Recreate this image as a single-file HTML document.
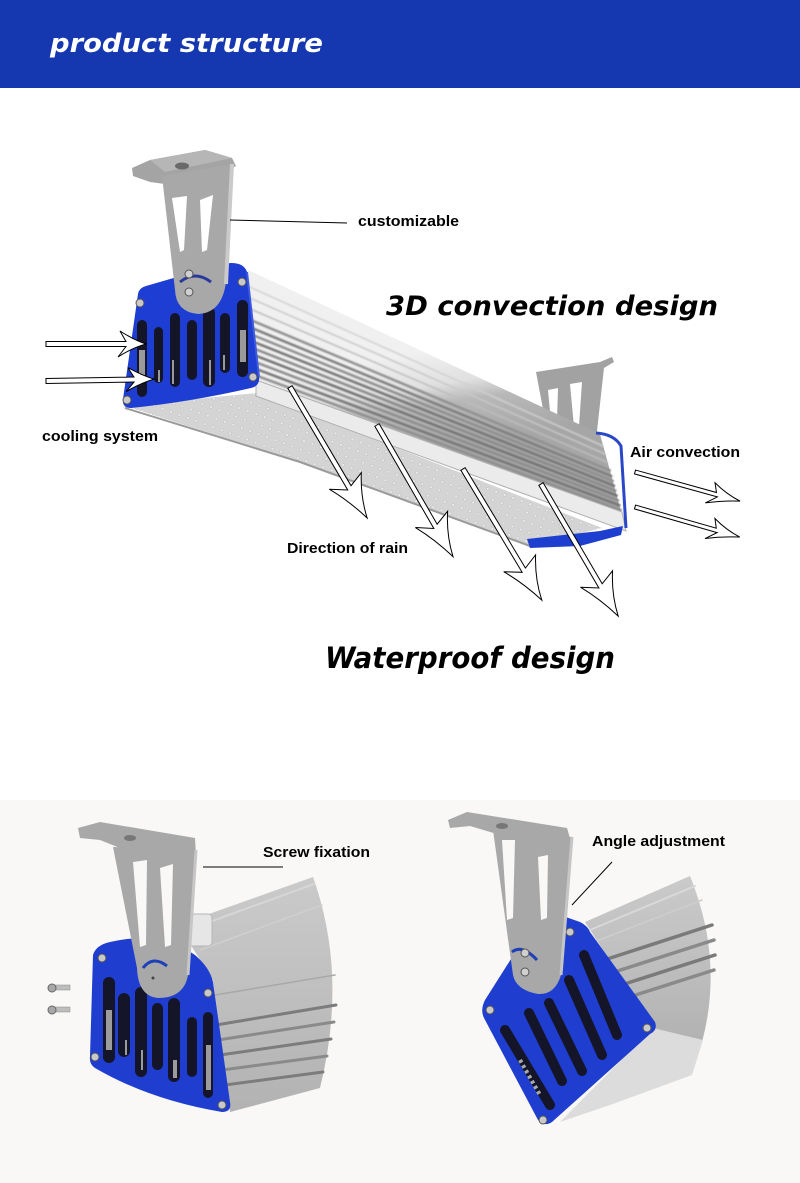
<!DOCTYPE html>
<html><head><meta charset="utf-8"><style>
html,body{margin:0;padding:0;background:#fff;}
body{width:800px;height:1183px;position:relative;overflow:hidden;}
svg{position:absolute;left:0;top:0;}
</style></head><body>
<svg width="800" height="1183" viewBox="0 0 800 1183" xmlns="http://www.w3.org/2000/svg">
<defs>
<linearGradient id="hs" gradientUnits="userSpaceOnUse" x1="424" y1="352" x2="439" y2="448">
<stop offset="0" stop-color="#f0f0f0"/><stop offset="0.35" stop-color="#e0e0e0"/><stop offset="0.55" stop-color="#b8b8b8"/><stop offset="1" stop-color="#a6a6a6"/>
</linearGradient>
<pattern id="dots" width="9" height="9" patternUnits="userSpaceOnUse" patternTransform="rotate(20)">
<rect width="9" height="9" fill="#d4d4d4"/><circle cx="4.5" cy="4.5" r="1.4" fill="#efefef" stroke="#b0b0b0" stroke-width="0.4"/>
</pattern>
<linearGradient id="hb" x1="0" y1="0" x2="0" y2="1">
<stop offset="0" stop-color="#cacaca"/><stop offset="0.5" stop-color="#bfbfbf"/><stop offset="1" stop-color="#b2b2b2"/>
</linearGradient>
<filter id="bl" x="-5%" y="-5%" width="110%" height="110%"><feGaussianBlur stdDeviation="0.7"/></filter>
</defs>

<!-- header -->
<rect x="0" y="0" width="800" height="88" fill="#1537b0"/>
<text x="50" y="52" font-family="DejaVu Sans, sans-serif" font-weight="bold" font-style="italic" font-size="26" fill="#fff" textLength="273" lengthAdjust="spacingAndGlyphs">product structure</text>

<!-- bottom background -->
<rect x="0" y="800" width="800" height="383" fill="#f9f8f6"/>

<!-- ===== MAIN LIGHT ===== -->
<!-- rear bracket -->
<path d="M536,372 L600,362 L612,357 L614,362 L604,368 L596,440 L550,446 Z" fill="#a2a2a2"/>
<polygon points="548,390 558,388 557,420 551,422" fill="#fff"/>
<polygon points="570,384 582,382 579,426 574,427" fill="#fff"/>

<!-- heatsink -->
<polygon points="248,270 600,434 622,515 256,382" fill="url(#hs)"/>
<g stroke-linecap="round" filter="url(#bl)">
<line x1="249.2" y1="286.8" x2="603.3" y2="446.2" stroke="#d0d0d0" stroke-width="1.5"/>
<line x1="250" y1="298" x2="605.5" y2="454.3" stroke="#c8c8c8" stroke-width="1.5"/>
<line x1="250.8" y1="309.2" x2="607.7" y2="462.4" stroke="#bdbdbd" stroke-width="1.5"/>
<line x1="251.6" y1="320.4" x2="609.9" y2="470.5" stroke="#919191" stroke-width="2.5"/>
<line x1="252.2" y1="328.2" x2="611.4" y2="476.1" stroke="#7e7e7e" stroke-width="2.5"/>
<line x1="252.6" y1="335" x2="612.8" y2="481" stroke="#8f8f8f" stroke-width="2.5"/>
<line x1="253.1" y1="341.7" x2="614.1" y2="485.8" stroke="#777" stroke-width="2.5"/>
<line x1="253.6" y1="348.4" x2="615.4" y2="490.7" stroke="#8b8b8b" stroke-width="2.5"/>
<line x1="254.1" y1="355.1" x2="616.7" y2="495.6" stroke="#737373" stroke-width="2.5"/>
<line x1="254.6" y1="361.8" x2="618" y2="500.4" stroke="#8d8d8d" stroke-width="2.5"/>
<line x1="255" y1="368.6" x2="619.4" y2="505.3" stroke="#767676" stroke-width="2.5"/>
<line x1="255.5" y1="375.3" x2="620.7" y2="510.1" stroke="#8e8e8e" stroke-width="2.5"/>
</g>
<!-- LED panel -->
<polygon points="125,406 256,393 602,528 530,546 300,462" fill="url(#dots)"/>
<polyline points="125,408 300,462 530,546" fill="none" stroke="#9a9a9a" stroke-width="2"/>
<!-- rail -->
<polygon points="256,380 622,512 626,531 256,396" fill="#ebebeb" stroke="#b0b0b0" stroke-width="1"/>
<!-- right end blue -->
<path d="M596,433 Q614,434 621,446 L626,528" fill="none" stroke="#2a47c8" stroke-width="3"/>
<polygon points="527,539 600,531 623,526 621,535 580,546 530,548" fill="#1e3ed0"/>

<!-- left end cap -->
<path d="M138,294 Q139,288 146,286 L222,264 Q243,260 247,272 L259,377 Q260,386 251,388 Q190,402 131,408 Q122,408 123,399 Z" fill="#1e3dd2"/>
<path d="M247,272 L259,377" stroke="#3e5be0" stroke-width="2" fill="none"/>
<g fill="#15152a">
<rect x="137" y="320" width="10" height="77" rx="5"/>
<rect x="154" y="327" width="9" height="56" rx="4.5"/>
<rect x="170" y="313" width="10" height="74" rx="5"/>
<rect x="187" y="320" width="10" height="60" rx="5"/>
<rect x="203" y="307" width="12" height="80" rx="6"/>
<rect x="220" y="313" width="10" height="60" rx="5"/>
<rect x="237" y="300" width="11" height="77" rx="5.5"/>
</g>
<g fill="#9a9a9a">
<rect x="139" y="350" width="6" height="30"/>
<rect x="240" y="330" width="6" height="32"/>
<rect x="158" y="370" width="2" height="12"/>
<rect x="172" y="360" width="2" height="24"/>
<rect x="209" y="360" width="2" height="25"/>
<rect x="223" y="355" width="2" height="15"/>
</g>
<g fill="#c9c9c9" stroke="#555" stroke-width="1">
<circle cx="140" cy="303" r="4"/><circle cx="242" cy="282" r="4"/><circle cx="253" cy="377" r="4"/><circle cx="127" cy="400" r="4"/>
</g>

<!-- main bracket -->
<polygon points="132,168 150,160 205,150 212,152 232,158 236,166 228,170 165,184 150,182 133,176" fill="#a4a4a4"/>
<polygon points="150,160 205,150 212,152 232,158 165,172" fill="#b6b6b6"/>
<ellipse cx="182" cy="166" rx="7" ry="3.5" fill="#6a6a6a"/>
<path d="M162,176 L232,164 L226,282 Q222,313 198,314 Q176,312 175,290 Z" fill="#a8a8a8"/>
<path d="M232,164 L226,284" stroke="#cacaca" stroke-width="4" fill="none"/>
<polygon points="172,198 187,196 184,250 180,252" fill="#fff"/>
<polygon points="200,200 213,195 207,250 202,252" fill="#fff"/>
<path d="M180,282 Q195,270 211,282" fill="none" stroke="#2a3a9a" stroke-width="3"/>
<circle cx="189" cy="274" r="4" fill="#d0d0d0" stroke="#555"/>
<circle cx="189" cy="292" r="4" fill="#d0d0d0" stroke="#555"/>

<!-- labels main -->
<line x1="230" y1="220" x2="347" y2="223" stroke="#000" stroke-width="1"/>
<g font-family="Liberation Sans, Arial, sans-serif" font-weight="bold" font-size="15" fill="#000">
<text x="358" y="226" textLength="101" lengthAdjust="spacingAndGlyphs">customizable</text>
<text x="42" y="441" textLength="116" lengthAdjust="spacingAndGlyphs">cooling system</text>
<text x="630" y="457" textLength="110" lengthAdjust="spacingAndGlyphs">Air convection</text>
<text x="287" y="553" textLength="121" lengthAdjust="spacingAndGlyphs">Direction of rain</text>
<text x="263" y="857" textLength="107" lengthAdjust="spacingAndGlyphs">Screw fixation</text>
<text x="592" y="846" textLength="133" lengthAdjust="spacingAndGlyphs">Angle adjustment</text>
</g>
<g font-family="DejaVu Sans, sans-serif" font-weight="bold" font-style="italic" fill="#000">
<text x="386" y="315" font-size="27" textLength="332" lengthAdjust="spacingAndGlyphs">3D convection design</text>
<text x="325" y="668" font-size="29" textLength="290" lengthAdjust="spacingAndGlyphs">Waterproof design</text>
</g>

<!-- arrows -->
<g fill="#fff" stroke="#000" stroke-width="1" stroke-linejoin="miter">
<path transform="translate(46,344)" d="M0,-2.5 L80,-2.5 L74,-13 Q88,-4 100,0 Q86,4 72,13 L80,2.5 L0,2.5 Z"/>
<path transform="translate(46,381) rotate(-1)" d="M0,-2.5 L88,-2.5 L82,-12 Q96,-4 108,0 Q94,4 80,12 L88,2.5 L0,2.5 Z"/>
<path transform="translate(290,387) rotate(59.5)" d="M0,-2.5 L116,-2.5 L110,-18 Q130,-5 152,0 Q128,7 108,18 L118,2.5 L0,2.5 Z"/>
<path transform="translate(377,425) rotate(60)" d="M0,-2.5 L116,-2.5 L110,-18 Q130,-5 152,0 Q128,7 108,18 L118,2.5 L0,2.5 Z"/>
<path transform="translate(463,469) rotate(59)" d="M0,-2.5 L117,-2.5 L111,-18 Q131,-5 153,0 Q129,7 109,18 L119,2.5 L0,2.5 Z"/>
<path transform="translate(541,484) rotate(59.7)" d="M0,-2.5 L117,-2.5 L111,-18 Q131,-5 153,0 Q129,7 109,18 L119,2.5 L0,2.5 Z"/>
<path transform="translate(635,472) rotate(15.5)" d="M0,-2 L84,-2 L80,-11 Q94,-3 109,0 Q92,4 76,11 L86,2 L0,2 Z"/>
<path transform="translate(635,507) rotate(16)" d="M0,-2 L84,-2 L80,-11 Q94,-3 109,0 Q92,4 76,11 L86,2 L0,2 Z"/>
</g>

<!-- ===== BOTTOM LEFT ===== -->
<path d="M178,925 L313,877 Q348,975 320,1088 L230,1112 L213,980 Z" fill="url(#hb)"/>
<g stroke-linecap="round">
<line x1="182" y1="932" x2="314" y2="884" stroke="#d6d6d6" stroke-width="2"/>
<line x1="200" y1="950" x2="322" y2="905" stroke="#cfcfcf" stroke-width="1.5"/>
<line x1="215" y1="995" x2="335" y2="975" stroke="#a8a8a8" stroke-width="1.5"/>
<line x1="216" y1="1025" x2="336" y2="1005" stroke="#7c7c7c" stroke-width="3"/>
<line x1="218" y1="1040" x2="334" y2="1022" stroke="#8a8a8a" stroke-width="3"/>
<line x1="220" y1="1055" x2="331" y2="1039" stroke="#7c7c7c" stroke-width="3"/>
<line x1="222" y1="1070" x2="327" y2="1056" stroke="#8a8a8a" stroke-width="3"/>
<line x1="225" y1="1085" x2="323" y2="1072" stroke="#7c7c7c" stroke-width="3"/>
</g>
<rect x="188" y="914" width="24" height="32" rx="4" fill="#e6e6e6" stroke="#b5b5b5"/>
<path d="M93,955 Q96,945 110,942 Q160,930 195,955 Q210,968 213,982 L230,1102 Q232,1112 222,1112 Q150,1100 95,1068 Q89,1064 90,1056 Z" fill="#1f3ecf"/>
<g fill="#15152a">
<rect x="103" y="977" width="12" height="86" rx="6"/>
<rect x="118" y="993" width="12" height="64" rx="6"/>
<rect x="135" y="987" width="12" height="90" rx="6"/>
<rect x="152" y="1003" width="11" height="67" rx="5.5"/>
<rect x="168" y="998" width="12" height="84" rx="6"/>
<rect x="187" y="1017" width="10" height="60" rx="5"/>
<rect x="203" y="1012" width="10" height="86" rx="5"/>
</g>
<g fill="#9c9c9c">
<rect x="106" y="1010" width="6" height="40"/><rect x="206" y="1045" width="5" height="45"/>
<rect x="125" y="1040" width="2" height="15"/><rect x="141" y="1050" width="2" height="20"/><rect x="173" y="1060" width="4" height="18"/>
</g>
<g fill="#c9c9c9" stroke="#555">
<circle cx="102" cy="958" r="4"/><circle cx="208" cy="993" r="4"/><circle cx="95" cy="1057" r="4"/><circle cx="222" cy="1105" r="4"/>
</g>
<polygon points="78,828 100,822 195,838 196,856 150,860 100,840 80,838" fill="#a8a8a8"/>
<ellipse cx="130" cy="838" rx="6" ry="3" fill="#777"/>
<path d="M113,847 L196,850 L188,975 Q184,998 158,998 Q138,996 137,968 Z" fill="#a8a8a8"/>
<path d="M196,850 L188,975" stroke="#c6c6c6" stroke-width="3"/>
<polygon points="133,862 147,860 146,945 140,947" fill="#f9f8f6"/>
<polygon points="160,868 173,864 171,945 165,947" fill="#f9f8f6"/>
<path d="M143,968 Q153,955 167,966" fill="none" stroke="#1d3fb8" stroke-width="3"/>
<circle cx="153" cy="978" r="1.5" fill="#444"/>
<g>
<rect x="54" y="985" width="16" height="5" fill="#bdbdbd" stroke="#888" stroke-width="0.5"/>
<circle cx="52" cy="988" r="4" fill="#a8a8a8" stroke="#666"/>
<rect x="54" y="1007" width="16" height="5" fill="#bdbdbd" stroke="#888" stroke-width="0.5"/>
<circle cx="52" cy="1010" r="4" fill="#a8a8a8" stroke="#666"/>
</g>
<line x1="203" y1="867" x2="283" y2="867" stroke="#000" stroke-width="1"/>

<!-- ===== BOTTOM RIGHT ===== -->
<path d="M585,922 L690,876 Q724,960 702,1042 L653,1028 Z" fill="url(#hb)"/>
<polygon points="653,1028 703,1040 692,1075 610,1105 560,1122" fill="#dcdcdc"/>
<g stroke-linecap="round">
<line x1="590" y1="930" x2="695" y2="886" stroke="#d8d8d8" stroke-width="2"/>
<line x1="594" y1="942" x2="702" y2="900" stroke="#cdcdcd" stroke-width="1.5"/>
<line x1="598" y1="962" x2="712" y2="925" stroke="#7a7a7a" stroke-width="3.5"/>
<line x1="605" y1="975" x2="714" y2="940" stroke="#8a8a8a" stroke-width="3.5"/>
<line x1="612" y1="988" x2="715" y2="955" stroke="#7a7a7a" stroke-width="3.5"/>
<line x1="620" y1="1000" x2="714" y2="970" stroke="#8a8a8a" stroke-width="3.5"/>
</g>
<path d="M537,918 Q545,912 560,915 L580,922 Q588,926 590,932 L655,1022 Q658,1030 650,1034 L552,1122 Q545,1127 538,1120 L484,1018 Q480,1010 485,1000 Z" fill="#1f3ecf"/>
<g stroke="#15152a" stroke-width="10" stroke-linecap="round">
<line x1="584" y1="955" x2="617" y2="1035"/>
<line x1="569" y1="980" x2="602" y2="1055"/>
<line x1="549" y1="1003" x2="582" y2="1071"/>
<line x1="529" y1="1013" x2="562" y2="1081"/>
<line x1="505" y1="1030" x2="550" y2="1105"/>
</g>
<line x1="520" y1="1060" x2="540" y2="1095" stroke="#aaa" stroke-width="4" stroke-dasharray="3,3"/>
<g fill="#c9c9c9" stroke="#555">
<circle cx="570" cy="932" r="4"/><circle cx="647" cy="1028" r="4"/><circle cx="543" cy="1120" r="4"/><circle cx="490" cy="1010" r="4"/>
</g>
<polygon points="448,820 467,812 567,828 571,842 550,846 527,843 470,826 450,828" fill="#a8a8a8"/>
<ellipse cx="502" cy="826" rx="6" ry="3" fill="#777"/>
<path d="M493,830 L572,837 L561,975 Q555,995 538,994 Q516,990 513,975 Z" fill="#a8a8a8"/>
<path d="M572,837 L561,975" stroke="#c6c6c6" stroke-width="3"/>
<polygon points="502,840 515,840 513,918 507,920" fill="#f9f8f6"/>
<polygon points="538,857 548,855 547,918 541,920" fill="#f9f8f6"/>
<path d="M512,952 Q522,944 537,960" fill="none" stroke="#1d3fb8" stroke-width="3"/>
<circle cx="525" cy="953" r="4" fill="#d0d0d0" stroke="#555"/>
<circle cx="525" cy="972" r="4" fill="#d0d0d0" stroke="#555"/>
<line x1="612" y1="862" x2="572" y2="905" stroke="#000" stroke-width="1"/>
</svg>
</body></html>
